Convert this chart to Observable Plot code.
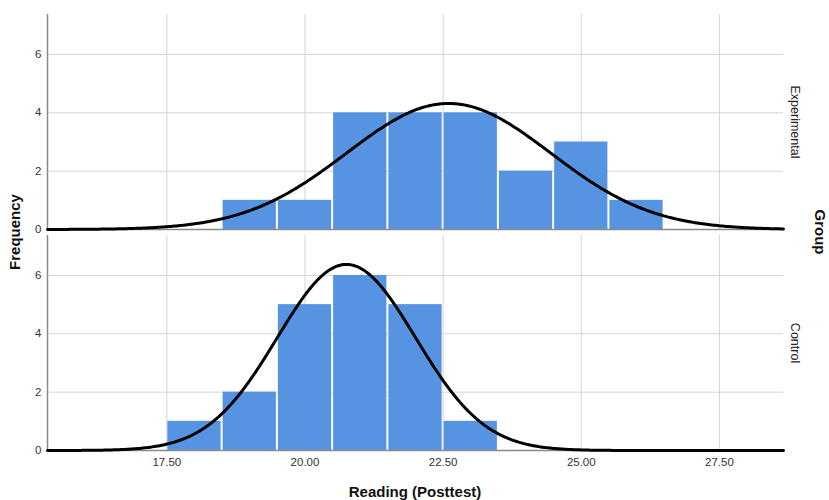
<!DOCTYPE html>
<html>
<head>
<meta charset="utf-8">
<script src="https://cdn.jsdelivr.net/npm/d3@7"></script>
<script src="https://cdn.jsdelivr.net/npm/@observablehq/plot@0.6"></script>
<style>
  html, body { margin: 0; padding: 0; background: #fff; }
  #chart { width: 829px; height: 500px; }
</style>
</head>
<body>
<div id="chart"></div>
<script>
// ---- data ----
const groups = ["Experimental", "Control"];
const binCenters = [18, 19, 20, 21, 22, 23, 24, 25, 26];
const experimentalCounts = [0, 1, 1, 4, 4, 4, 2, 3, 1];
const controlCounts = [1, 2, 5, 6, 5, 1, 0, 0, 0];
const binWidth = 1;
// normal-curve parameters (mean, sd, n) for each group
const curveMeans = [22.6, 20.75];
const curveSDs = [1.847, 1.251];
const curveN = [20, 20];
const xTicks = [17.5, 20, 22.5, 25, 27.5];
const yTicks = [0, 2, 4, 6];
const xDomain = [15.34, 28.66];
const yDomain = [0, 7.37];

// ---- tables built from the arrays ----
const countsByGroup = [experimentalCounts, controlCounts];
const bars = [];
groups.forEach((g, gi) => {
  binCenters.forEach((c, i) => {
    const v = countsByGroup[gi][i];
    if (v > 0) bars.push({group: g, x1: c - binWidth / 2, x2: c + binWidth / 2, count: v});
  });
});
const curve = [];
groups.forEach((g, gi) => {
  const m = curveMeans[gi], s = curveSDs[gi], n = curveN[gi];
  const steps = 400;
  for (let k = 0; k <= steps; k++) {
    const x = xDomain[0] + (xDomain[1] - xDomain[0]) * k / steps;
    const y = n * binWidth / (s * Math.sqrt(2 * Math.PI)) * Math.exp(-0.5 * ((x - m) / s) ** 2);
    curve.push({group: g, x, y});
  }
});
const labels = groups.map(g => ({group: g}));

const font = "Arial, 'Liberation Sans', sans-serif";

const plot = Plot.plot({
  width: 829,
  height: 500,
  marginTop: 13,
  marginBottom: 49,
  marginLeft: 47,
  marginRight: 46,
  style: {fontFamily: font, fontSize: "11.5px", color: "#333", background: "#fff"},
  x: {domain: xDomain, ticks: xTicks, tickFormat: d3.format(".2f"), tickSize: 0, tickPadding: 7, label: null},
  y: {domain: yDomain, ticks: yTicks, tickSize: 0, tickPadding: 6, label: null},
  fy: {domain: groups, paddingInner: 0.027, paddingOuter: 0, axis: null, label: null},
  marks: [
    Plot.gridX(xTicks, {stroke: "#d4d4d4", strokeOpacity: 1, strokeWidth: 1}),
    Plot.gridY(yTicks.filter(d => d > 0), {stroke: "#d4d4d4", strokeOpacity: 1, strokeWidth: 1}),
    Plot.rectY(bars, {x1: "x1", x2: "x2", y: "count", fy: "group", fill: "#5694e2", inset: 1, insetBottom: 0, insetTop: 0}),
    Plot.ruleY([0], {stroke: "#8a8a8a", strokeWidth: 1.5}),
    Plot.ruleX([xDomain[0]], {stroke: "#8a8a8a", strokeWidth: 1.5}),
    Plot.line(curve, {x: "x", y: "y", fy: "group", stroke: "#000", strokeWidth: 3, curve: "linear"}),
    Plot.text(labels, {fy: "group", text: "group", frameAnchor: "right", dx: 11, rotate: 90, textAnchor: "middle", lineAnchor: "middle", fontSize: 12.5, fill: "#222"})
  ]
});

const svg = d3.select(plot);
svg.append("text")
  .attr("transform", "translate(16,232) rotate(-90)")
  .attr("text-anchor", "middle").attr("dominant-baseline", "middle")
  .attr("font-family", font).attr("font-weight", "bold").attr("font-size", 15).attr("fill", "#111")
  .text("Frequency");
svg.append("text")
  .attr("transform", "translate(819,232) rotate(90)")
  .attr("text-anchor", "middle").attr("dominant-baseline", "middle")
  .attr("font-family", font).attr("font-weight", "bold").attr("font-size", 15).attr("fill", "#111")
  .text("Group");
svg.append("text")
  .attr("x", 415).attr("y", 497)
  .attr("text-anchor", "middle")
  .attr("font-family", font).attr("font-weight", "bold").attr("font-size", 15).attr("fill", "#111")
  .text("Reading (Posttest)");

document.getElementById("chart").appendChild(plot);
</script>
</body>
</html>
